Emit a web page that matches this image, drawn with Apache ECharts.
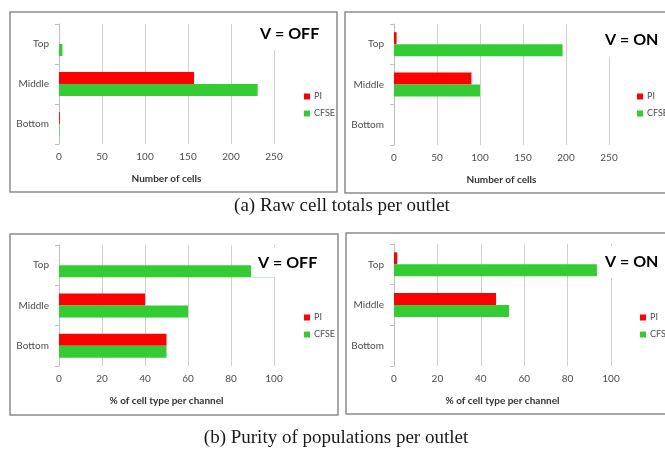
<!DOCTYPE html>
<html><head><meta charset="utf-8">
<script src="https://cdn.jsdelivr.net/npm/echarts@6/dist/echarts.min.js"></script>
<style>html,body{margin:0;padding:0;background:#fff}#c{width:665px;height:450px}</style>
</head><body><div id="c"></div>
<script>
var categories = ['Bottom', 'Middle', 'Top'];
var rawTicks = [0, 50, 100, 150, 200, 250];
var purTicks = [0, 20, 40, 60, 80, 100];
var rawOffPI = [1, 157, 0];
var rawOffCFSE = [0.5, 231, 4];
var rawOnPI = [0, 90, 3];
var rawOnCFSE = [0, 100, 196];
var purOffPI = [50, 40, 0];
var purOffCFSE = [50, 60, 100];
var purOnPI = [0, 47, 1.5];
var purOnCFSE = [0, 53, 93.5];
var panelTitles = ['V = OFF', 'V = ON', 'V = OFF', 'V = ON'];
var axisNames = ['Number of cells', 'Number of cells', '% of cell type per channel', '% of cell type per channel'];
var captions = ['(a) Raw cell totals per outlet', '(b) Purity of populations per outlet'];

var FONT = 'Lato';
var RED = '#FF0000', GREEN = '#33CC33';
var grids = [
  {left: 59, top: 24, width: 215, height: 120},
  {left: 394, top: 24, width: 215, height: 121},
  {left: 59, top: 245, width: 215, height: 121},
  {left: 394, top: 244, width: 217, height: 122}
];
var ticks = [rawTicks, rawTicks, purTicks, purTicks];
var pairs = [[rawOffPI, rawOffCFSE], [rawOnPI, rawOnCFSE], [purOffPI, purOffCFSE], [purOnPI, purOnCFSE]];
var titlePos = [
  {left: 252, top: 18, padding: [8, 10, 8, 8]},
  {left: 598, top: 24, padding: [8, 10, 9, 7]},
  {left: 251, top: 247, padding: [8, 10, 6, 7]},
  {left: 598, top: 246, padding: [8, 10, 8, 7]}
];
var legendPos = [
  {left: 299, top: 87}, {left: 632, top: 87}, {left: 299, top: 308}, {left: 635, top: 308}
];

var option = {
  backgroundColor: '#fff',
  animation: false,
  grid: grids,
  xAxis: grids.map(function (g, i) {
    var t = ticks[i];
    return {
      type: 'value', gridIndex: i, min: t[0], max: t[t.length - 1], interval: t[1] - t[0],
      axisLine: {show: false}, axisTick: {show: false},
      splitLine: {lineStyle: {color: '#D0D0D0', width: 1}},
      axisLabel: {color: '#4D4D4D', fontSize: 10, fontFamily: FONT, margin: 8},
      name: axisNames[i], nameLocation: 'middle', nameGap: 30,
      nameTextStyle: {color: '#333', fontSize: 10, fontWeight: 'bold', fontFamily: FONT}
    };
  }),
  yAxis: grids.map(function (g, i) {
    return {
      type: 'category', gridIndex: i, data: categories,
      axisLine: {show: true, lineStyle: {color: '#BFBFBF'}},
      axisTick: {show: true, length: 4, lineStyle: {color: '#BFBFBF'}},
      axisLabel: {color: '#4D4D4D', fontSize: 10, fontFamily: FONT, margin: 10},
      splitLine: {show: false}
    };
  }),
  title: panelTitles.map(function (t, i) {
    return {
      text: t, left: titlePos[i].left, top: titlePos[i].top, padding: titlePos[i].padding,
      backgroundColor: '#fff', z: 10,
      textStyle: {fontSize: 16, fontWeight: 'bold', color: '#000', fontFamily: FONT, lineHeight: 16}
    };
  }),
  legend: legendPos.map(function (p, i) {
    return {
      data: ['PI', 'CFSE'], orient: 'vertical', left: p.left, top: p.top,
      itemWidth: 6, itemHeight: 6, itemGap: 8, icon: 'rect', selectedMode: false,
      textStyle: {fontSize: 9, color: '#4D4D4D', fontFamily: FONT, padding: [0, 0, 0, -1]}
    };
  }),
  series: [],
  graphic: []
};

pairs.forEach(function (pr, i) {
  option.series.push({
    name: 'PI', type: 'bar', xAxisIndex: i, yAxisIndex: i, data: pr[0],
    barWidth: 12, barGap: '0%', itemStyle: {color: RED}
  });
  option.series.push({
    name: 'CFSE', type: 'bar', xAxisIndex: i, yAxisIndex: i, data: pr[1],
    barWidth: 12, barGap: '0%', itemStyle: {color: GREEN}
  });
});

var frames = [
  {x: 10, y: 12, width: 327, height: 180},
  {x: 345, y: 12, width: 325, height: 181},
  {x: 10, y: 234, width: 328, height: 181},
  {x: 346, y: 233, width: 324, height: 181}
];
frames.forEach(function (f) {
  option.graphic.push({
    type: 'rect', shape: f, silent: true, z: 0,
    style: {fill: 'none', stroke: '#8C8C8C', lineWidth: 1.5}
  });
});
option.graphic.push({
  type: 'text', x: 342, y: 206, silent: true,
  style: {text: captions[0], fontFamily: 'Liberation Serif', fontSize: 19, fill: '#1a1a1a', textAlign: 'center', textVerticalAlign: 'middle'}
});
option.graphic.push({
  type: 'text', x: 336, y: 438, silent: true,
  style: {text: captions[1], fontFamily: 'Liberation Serif', fontSize: 19, fill: '#1a1a1a', textAlign: 'center', textVerticalAlign: 'middle'}
});

var chart = echarts.init(document.getElementById('c'), null, {renderer: 'canvas'});
chart.setOption(option);
</script></body></html>
